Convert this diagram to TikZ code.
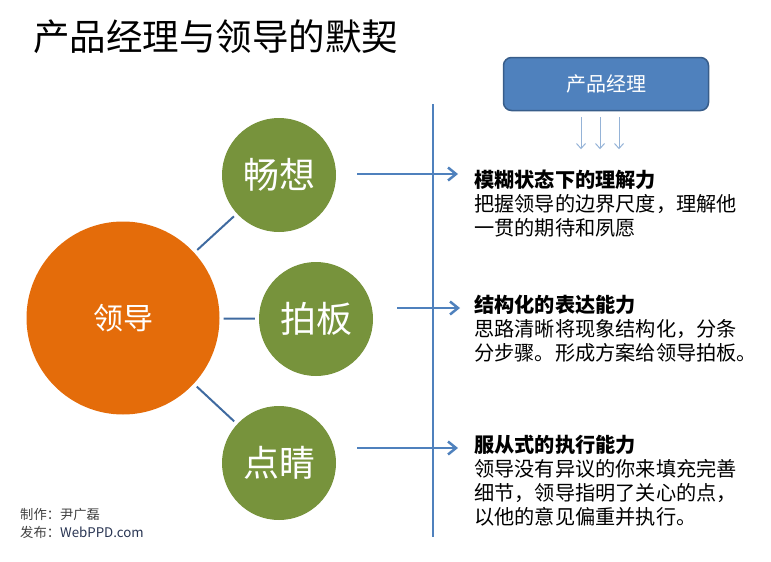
\documentclass[tikz,border=0pt]{standalone}
\usepackage{fontspec}
\setmainfont{Noto Sans CJK SC}
\usepackage{tikz}
\usetikzlibrary{arrows.meta,positioning,calc}
\definecolor{leadorange}{RGB}{228,108,10}
\definecolor{ideagreen} {RGB}{119,147,60}
\definecolor{pmblue}    {RGB}{79,129,189}
\definecolor{pmborder}  {RGB}{56,93,138}
\definecolor{linkblue}  {RGB}{63,106,160}
\definecolor{paleblue}  {RGB}{149,179,215}
\definecolor{sitenavy}  {RGB}{40,52,82}
\tikzset{
  leadnode/.style={circle, fill=leadorange, text=white, inner sep=0pt,
                   minimum size=193pt, font=\fontsize{30}{32}\selectfont},
  ideanode/.style={circle, fill=ideagreen, text=white, inner sep=0pt,
                   minimum size=114pt, font=\fontsize{36}{38}\selectfont},
  pmbox/.style   ={draw=pmborder, line width=1.5pt, fill=pmblue, text=white,
                   rounded corners=8pt, minimum width=205pt, minimum height=53pt,
                   font=\fontsize{20}{22}\selectfont},
  descnode/.style={anchor=west, align=left, inner sep=0pt,
                   font=\fontsize{20.2}{24}\selectfont},
  link/.style    ={linkblue, line width=2pt, shorten <=4pt, shorten >=4pt},
  arr/.style     ={-{Straight Barb[length=8pt, width=13pt]}, pmblue, line width=2.5pt},
  sarr/.style    ={-{Straight Barb[length=5pt, width=9pt]}, paleblue, line width=1pt},
}
\begin{document}
\begin{tikzpicture}[x=1pt, y=-1pt]
\useasboundingbox (0,0) rectangle (771,562);

% title
\node[anchor=west, inner sep=0pt, font=\fontsize{36.5}{38}\selectfont] (title) at (33,37)
  {产品经理与领导的默契};

% circles
\node[leadnode] (lead) at (123,318) {领导};
\node[ideanode] (idea1) at (279,175) {畅想};
\node[ideanode] (idea2) at (316,319) {拍板};
\node[ideanode] (idea3) at (279,463) {点睛};

\draw[link] (lead) -- (idea1);
\draw[link] (lead) -- (idea2);
\draw[link] (lead) -- (idea3);

% timeline
\coordinate (axtop) at (433,104);
\coordinate (axbot) at (433,537);
\draw[pmblue, line width=2.5pt] (axtop) -- (axbot);

% product manager
\node[pmbox] (pm) at (606,84) {产品经理};
\foreach \dx in {-25,-6,13}
  \draw[sarr] ($(pm.south)+(\dx,6)$) -- ++(0,32);

% arrows
\coordinate (a1s) at (357,174); \coordinate (a1e) at (458,174);
\coordinate (a2s) at (397,308); \coordinate (a2e) at (460,308);
\coordinate (a3s) at (357,448); \coordinate (a3e) at (458,448);
\draw[arr] (a1s) -- (a1e);
\draw[arr] (a2s) -- (a2e);
\draw[arr] (a3s) -- (a3e);

% descriptions
\node[descnode] (desc1) at (474,204)
  {\textbf{模糊状态下的理解力}\\
   把握领导的边界尺度，理解他\\
   一贯的期待和夙愿};
\node[descnode] (desc2) at (474,329)
  {\textbf{结构化的表达能力}\\
   思路清晰将现象结构化，分条\\
   分步骤。形成方案给领导拍板。};
\node[descnode] (desc3) at (474,481)
  {\textbf{服从式的执行能力}\\
   领导没有异议的你来填充完善\\
   细节，领导指明了关心的点，\\
   以他的意见偏重并执行。};

% footer
\node[anchor=west, align=left, inner sep=0pt, text=black!75,
      font=\fontsize{13.3}{18}\selectfont] (credit) at (20,523)
  {制作：尹广磊\\发布：\textcolor{sitenavy}{WebPPD.com}};
\end{tikzpicture}
\end{document}
